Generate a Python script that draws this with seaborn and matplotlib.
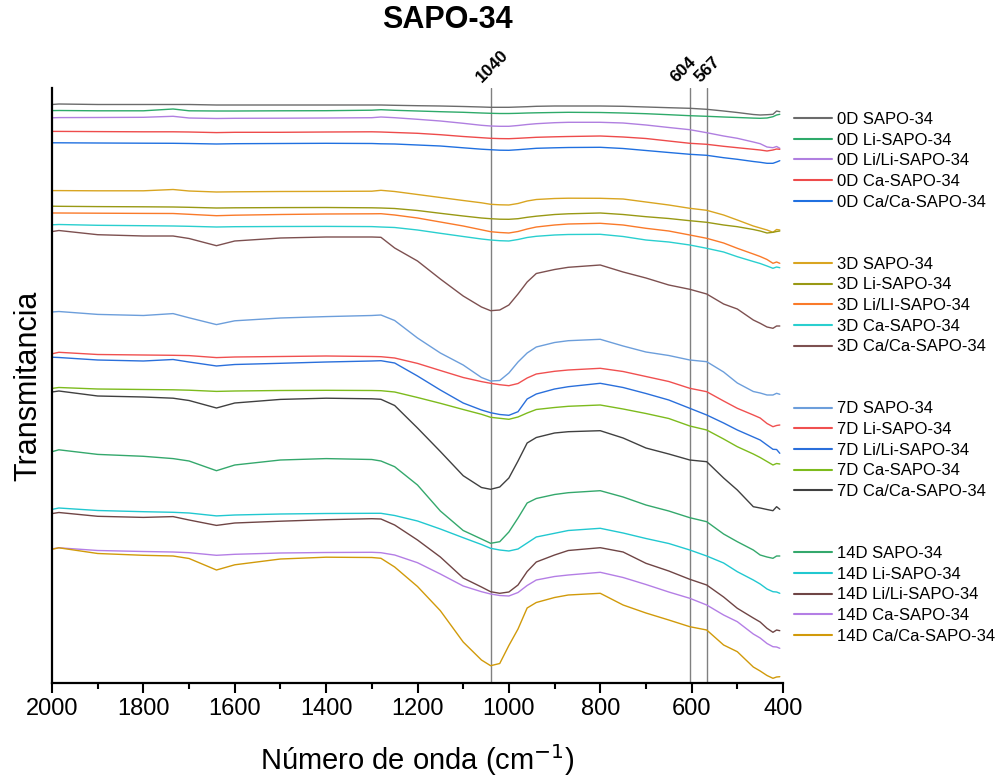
import numpy as np
import pandas as pd
import matplotlib
matplotlib.use("Agg")
import matplotlib.pyplot as plt
import seaborn as sns
from matplotlib.lines import Line2D

# ---------------- data ----------------
wavenumber = [2000, 1985, 1900, 1800, 1735, 1700, 1640, 1600, 1500, 1400,
              1300, 1280, 1250, 1200, 1150, 1100, 1060, 1040, 1020, 1000,
              980, 960, 940, 900, 870, 800, 750, 700, 650, 604,
              567, 530, 500, 465, 450, 435, 422, 414, 407]

sapo_0d = [578.5, 579, 578.5, 578.5, 578.5, 578.5, 578, 578, 578, 578,
           578, 578, 577.7, 577.3, 577, 576.5, 576, 575.7, 575.7, 575.7,
           576, 576.3, 576.7, 577, 577, 577, 576.7, 576, 575.3, 574.7,
           573.7, 572, 570.5, 568.5, 568, 568.3, 568.7, 572, 571.3]
li_0d = [572.4, 572.5, 572.2, 572.2, 574, 572.2, 572, 572, 572.2, 572.3,
         572.8, 573.3, 572.7, 572, 571.3, 570.7, 570, 569.7, 569.5, 569.5,
         569.7, 570, 570.2, 570.5, 570.7, 570.5, 570, 569.3, 568.3, 567.3,
         566.7, 566, 565.5, 564.9, 564.7, 565, 566.3, 568, 568.7]
lili_0d = [565.2, 565.4, 565.5, 565.7, 566.7, 565, 564.5, 564.7, 564.8, 565,
           565.3, 566, 565.3, 563.7, 562, 559.7, 557.7, 557, 556.7, 556.7,
           557.5, 558.5, 559.3, 560.3, 560.7, 560.7, 560, 558, 555.5, 553.3,
           550.3, 547, 544.7, 541, 539.3, 536, 535.3, 536.5, 534.7]
ca_0d = [551.6, 551.6, 551.4, 551.2, 551.2, 551, 550.4, 550.7, 550.7, 551,
         551.2, 551, 550.5, 549.7, 548.3, 546.5, 545.3, 544.7, 544.4, 544.3,
         544.7, 545.2, 545.7, 546.2, 546.5, 547, 546, 544.5, 542, 539.7,
         538.7, 536.7, 535.3, 533.7, 533, 532, 533, 534, 533.7]
caca_0d = [540.2, 540.2, 540, 539.8, 539.7, 539.5, 539, 539.3, 539.5, 539.7,
           539.5, 539.2, 539, 538, 537, 535.2, 533.8, 533.3, 532.8, 532.7,
           533.3, 534, 534.7, 535.2, 535.5, 535.7, 534.5, 532.5, 530.5, 528.7,
           527.7, 525.3, 523.7, 521.5, 520.7, 519.7, 519.7, 521, 522.3]

sapo_3d = [492.4, 492.4, 492.2, 492.2, 493.5, 492, 491, 491.2, 491.5, 491.6,
           491.8, 492.7, 491.5, 488.5, 485.5, 482.5, 480.2, 478.7, 478.2, 478,
           479.5, 482, 483.5, 484.5, 484.8, 484.7, 484, 481, 478, 474.7,
           472.7, 468, 463, 457, 455, 453, 450.7, 453.5, 453]
li_3d = [476.8, 476.7, 476.4, 476.2, 476, 475.7, 475, 475.2, 475.4, 475.5,
         475.2, 475, 474.5, 472.5, 469.7, 467, 465, 464.3, 463.8, 463.7,
         464.3, 465.7, 466.8, 468.5, 469.2, 470, 468.5, 466.3, 464.5, 462.3,
         460.7, 458, 456.3, 453.5, 452, 450, 450.7, 451.5, 452]
lili_3d = [470, 470, 469.8, 469.6, 469.5, 468.7, 467.3, 467.8, 468.5, 469,
           469.2, 469.3, 468, 465, 461, 457, 453.2, 451.3, 450.5, 450,
           451.5, 454, 456, 458, 459, 459.7, 458, 454.7, 452, 448,
           444.7, 440, 434.7, 429, 426.5, 423.5, 419.7, 421, 419.7]
ca_3d = [458.2, 458.5, 457.7, 457.3, 457, 456.7, 456, 456.3, 456.5, 456.6,
         456.4, 456, 455.5, 453, 449.7, 446.5, 444, 443, 442.3, 442,
         443.5, 445.5, 446.7, 448, 448.5, 448.7, 446.5, 443, 441, 438,
         434.7, 431, 426.3, 421.5, 419.5, 417, 414.7, 416, 415.3]
caca_3d = [451.4, 452.5, 448.3, 447, 447, 444.5, 437.3, 442, 445, 446,
           446, 445.7, 435, 422, 404, 387, 376, 372.3, 373, 378,
           389, 401, 409.5, 413.5, 415.7, 418, 411, 405, 398, 393.7,
           389, 379, 374, 363, 359.7, 356, 354.7, 357, 357]

sapo_7d = [371, 371.5, 368.6, 367.5, 369.4, 365.2, 358.4, 362.2, 365, 366.4,
           367.5, 368, 362.5, 345, 330, 318, 305.5, 302, 302.5, 310,
           321, 330, 336, 340.5, 342.3, 343.7, 337, 331, 327.5, 323,
           321.3, 311, 300, 291.5, 290, 288, 288, 289.7, 288.7]
li_7d = [329.2, 330.7, 328.5, 328, 327.7, 327.4, 325.4, 326, 326.5, 327,
         326.5, 326.3, 325, 319.6, 312.5, 305.5, 301.4, 299.7, 298.3, 297.3,
         299.5, 305, 309, 311.7, 313, 314.7, 311.5, 306.5, 301.5, 294.7,
         291.3, 282, 274.7, 268, 265, 259.5, 256.3, 257.5, 258]
lili_7d = [325.8, 325.5, 323, 322, 323.5, 321, 317, 318.5, 319.7, 321,
           322, 322.3, 320, 307, 293, 280, 273, 270.3, 268.5, 267.7,
           271.3, 284, 289, 294, 296.3, 299.7, 295.5, 289.5, 283, 274.7,
           268, 260, 253, 246, 243, 238, 233.7, 233.5, 229.7]
ca_7d = [294.6, 295.5, 294, 293.5, 293.2, 292.8, 291.6, 292, 292.5, 292.7,
         292.5, 292.3, 291, 285.5, 279.7, 273.5, 268.7, 265.7, 264.7, 263.7,
         266, 270, 273.5, 275.5, 276.7, 278, 274, 269.5, 264.5, 257,
         253, 244, 236.3, 229, 225.5, 221.5, 218, 219.5, 219]
caca_7d = [291, 292, 287, 286, 284.8, 282.5, 275, 280, 283.6, 284.8,
           284.2, 283.7, 277.5, 255, 231.5, 207.3, 195.5, 193.7, 196, 205,
           222, 240, 245.5, 250, 251.3, 252.3, 245, 235, 229, 223,
           221.3, 205, 193, 176.3, 175, 173.5, 172.3, 176.3, 173.7]

sapo_14d = [231.3, 233.2, 228.6, 226.7, 224.4, 222, 212.3, 218, 223, 224.4,
            223.5, 222, 216.3, 198, 172, 152.5, 144, 139.7, 141.3, 151,
            165, 180, 184.5, 188.5, 190.3, 192.3, 186, 178, 172, 165.3,
            161.3, 149, 141.3, 133, 128, 126, 124.7, 127, 127]
li_14d = [173.6, 175, 172.5, 171.3, 170.7, 170, 167.1, 168, 169, 169.5,
          169.7, 169.7, 167.5, 162, 154, 145.3, 138.5, 134.7, 133, 132,
          134, 140, 146, 149.7, 152.5, 154.7, 150, 144.5, 139.5, 133,
          127, 120, 111.3, 103, 99, 94, 91.3, 91, 89.7]
lili_14d = [169.4, 170.5, 166.7, 165.6, 166.4, 163, 157.6, 160, 161.8, 163.3,
            164.3, 164, 158, 143, 126, 105, 96, 91.3, 89.7, 91,
            98, 111.5, 121, 128, 132.5, 135.3, 131, 119.7, 112, 103.7,
            98, 86, 74.7, 65, 61, 54.7, 50.7, 53, 52.3]
ca_14d = [134.1, 135.2, 132.5, 131.5, 131, 130.3, 127.7, 128.7, 130, 130.5,
          130.7, 130.3, 128, 120.3, 109, 97, 91.3, 89, 87.5, 87,
          90.5, 97.5, 103, 106.5, 108, 110.7, 105.5, 98.5, 91, 84.7,
          78, 68, 61.3, 49, 45, 39.5, 36.3, 36, 34.7]
caca_14d = [133.7, 135.2, 129.5, 127.7, 127, 124.5, 113, 118.2, 124, 125.8,
            125.5, 124.7, 116, 96.5, 72.3, 41, 23, 17.3, 19.5, 37.5,
            54, 75, 80.5, 85.5, 88, 89.7, 78, 70, 63, 56.3,
            53, 38, 31.3, 16, 12, 7.5, 4.7, 6, 6.3]

sample_names = [
    "0D SAPO-34", "0D Li-SAPO-34", "0D Li/Li-SAPO-34", "0D Ca-SAPO-34", "0D Ca/Ca-SAPO-34",
    "3D SAPO-34", "3D Li-SAPO-34", "3D Li/LI-SAPO-34", "3D Ca-SAPO-34", "3D Ca/Ca-SAPO-34",
    "7D SAPO-34", "7D Li-SAPO-34", "7D Li/Li-SAPO-34", "7D Ca-SAPO-34", "7D Ca/Ca-SAPO-34",
    "14D SAPO-34", "14D Li-SAPO-34", "14D Li/Li-SAPO-34", "14D Ca-SAPO-34", "14D Ca/Ca-SAPO-34",
]
series = [sapo_0d, li_0d, lili_0d, ca_0d, caca_0d,
          sapo_3d, li_3d, lili_3d, ca_3d, caca_3d,
          sapo_7d, li_7d, lili_7d, ca_7d, caca_7d,
          sapo_14d, li_14d, lili_14d, ca_14d, caca_14d]
colors = ["#6b6b6b", "#2eaa6a", "#b07fe0", "#ee4b4b", "#2070e0",
          "#d9a521", "#999914", "#fa7a2a", "#2acfcf", "#7d5050",
          "#6c9edb", "#f05050", "#2a6fdb", "#7dbb1d", "#404040",
          "#34a86c", "#21c8d0", "#6f4545", "#b47ee5", "#d19a0a"]
marker_wn = [1040, 604, 567]
marker_labels = ["1040", "604", "567"]

# ---------------- build long-form table ----------------
frames = []
for name, vals in zip(sample_names, series):
    frames.append(pd.DataFrame({"wn": wavenumber, "T": vals, "sample": name}))
df = pd.concat(frames, ignore_index=True)
palette = dict(zip(sample_names, colors))

# ---------------- plot ----------------
sns.set_style("white")
plt.rcParams["font.family"] = ["Liberation Sans", "DejaVu Sans"]
plt.rcParams["text.color"] = "black"
plt.rcParams["axes.labelcolor"] = "black"
plt.rcParams["xtick.color"] = "black"
plt.rcParams["ytick.color"] = "black"

W, H = 1007, 782
fig = plt.figure(figsize=(W / 100, H / 100), dpi=100)
ax = fig.add_axes([52 / W, 1 - 683 / H, (783 - 52) / W, (683 - 88) / H])

sns.lineplot(data=df, x="wn", y="T", hue="sample", palette=palette,
             estimator=None, sort=False, legend=False, linewidth=1.0, ax=ax)

ax.set_xlim(2000, 400)
ax.set_ylim(0, 595)

for wn in marker_wn:
    ax.axvline(wn, color="#808080", linewidth=1.0, zorder=0)

offsets_px = {"1040": -7, "604": -11, "567": -4}
for wn, lab in zip(marker_wn, marker_labels):
    ax.annotate(lab, xy=(wn, 1.0), xycoords=("data", "axes fraction"),
                xytext=(offsets_px[lab] * 0.72, 2), textcoords="offset points",
                rotation=45, rotation_mode="anchor", ha="left", va="bottom",
                fontsize=12.5, fontweight="bold", color="black",
                annotation_clip=False)

# axes styling
for s in ["top", "right"]:
    ax.spines[s].set_visible(False)
for s in ["left", "bottom"]:
    ax.spines[s].set_color("black")
    ax.spines[s].set_linewidth(1.6)
ax.set_yticks([])
ax.set_xticks([2000, 1800, 1600, 1400, 1200, 1000, 800, 600, 400])
ax.set_xticks(np.arange(1900, 400, -200), minor=True)
ax.tick_params(axis="x", which="major", direction="out", length=7, width=1.5,
               labelsize=17, pad=4, bottom=True, colors="black")
ax.tick_params(axis="x", which="minor", direction="out", length=4, width=1.5,
               bottom=True, colors="black")

ax.set_xlabel("Número de onda (cm$^{-1}$)", fontsize=21, color="black")
ax.xaxis.set_label_coords(0.5, (683 - 760) / 595)
ax.xaxis.label.set_va("center")
ax.set_ylabel("Transmitancia", fontsize=22, color="black")
ax.yaxis.set_label_coords((28 - 52) / 731, 0.5)
ax.yaxis.label.set_va("center")

fig.text(447 / W, 1 - 20 / H, "SAPO-34", ha="center", va="center",
         fontsize=22, fontweight="bold", color="black")

# legend with blank rows between the day groups
handles, labels = [], []
blank = Line2D([], [], linestyle="none")
for i, (name, c) in enumerate(zip(sample_names, colors)):
    if i > 0 and i % 5 == 0:
        handles += [blank, blank]
        labels += [" ", " "]
    handles.append(Line2D([], [], color=c, linewidth=1.5))
    labels.append(name)
leg = fig.legend(handles, labels, loc="upper left",
                 bbox_to_anchor=(794 / W, 1 - 112 / H),
                 frameon=False, fontsize=12, handlelength=2.3, handletextpad=0.3,
                 labelspacing=0.34, borderpad=0, borderaxespad=0)
for t in leg.get_texts():
    t.set_color("black")

fig.savefig("out.png", dpi=100)
